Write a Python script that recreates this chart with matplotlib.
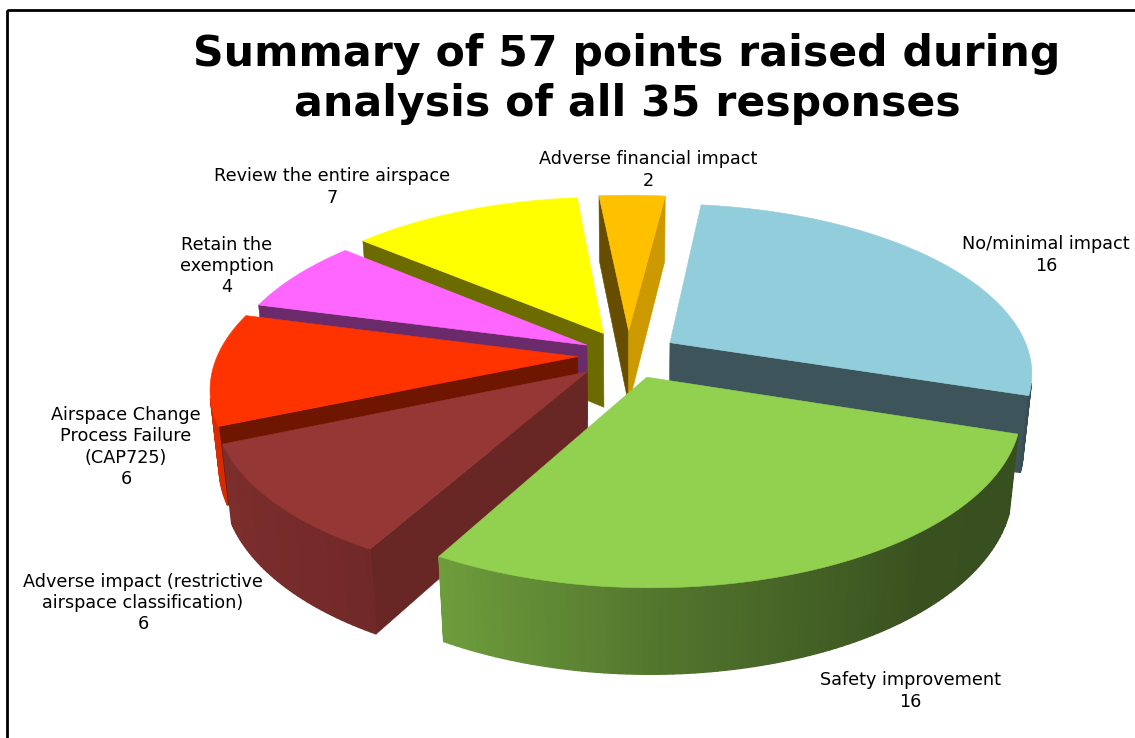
import numpy as np
import matplotlib
matplotlib.use('Agg')
import matplotlib.pyplot as plt
from matplotlib.patches import Polygon, Rectangle

# Data
categories = ['No/minimal impact', 'Safety improvement',
              'Adverse impact (restrictive\nairspace classification)',
              'Airspace Change\nProcess Failure\n(CAP725)',
              'Retain the\nexemption', 'Review the entire airspace',
              'Adverse financial impact']
values = [16, 16, 6, 6, 4, 7, 2]
title = 'Summary of 57 points raised during\nanalysis of all 35 responses'

# Styles, same order as the values
colors = ['#92CDDC', '#92D050', '#953735', '#FF3300', '#FF66FF', '#FFFF00', '#FFC000']
wall_shade = [(0.41, 0.41), (0.4, 0.4), (0.7, 0.7), (0.43, 0.43), (0.42, 0.42), (0.42, 0.42), (0.4, 0.8)]
explode = [0.14, 0.14, 0.15, 0.14, 0.13, 0.15, 0.15]
draw_order = [5, 6, 0, 4, 3, 2, 1]
label_pos = [(1046, 255), (910, 691), (143, 603), (126, 447), (227, 266), (332, 187), (648, 170)]

# Camera and pie geometry, all in figure pixels
start_angle = 7
depth = 0.24
elev = np.radians(27.5)
cam_dist = 5.2
focal = 1872
cx, cy = 628, 355


def project(x, y, z):
    w = cam_dist + y * np.cos(elev) - z * np.sin(elev)
    return cx + focal * x / w, cy - focal * (y * np.sin(elev) + z * np.cos(elev)) / w


def shade(color, f):
    rgb = np.array(matplotlib.colors.to_rgb(color))
    return tuple(rgb * f)


def rim_shade(deg):
    nx = np.sin(np.radians(deg))
    return np.interp(nx, [-1, -0.47, 0, 0.64, 1], [0.85, 0.75, 0.57, 0.39, 0.38])


def visible(pts):
    xs = np.array([p[0] for p in pts])
    ys = np.array([p[1] for p in pts])
    return np.sum(xs * np.roll(ys, -1) - np.roll(xs, -1) * ys) < 0


def draw_face(ax, pts, color, lw=0.4):
    ax.add_patch(Polygon(pts, closed=True, facecolor=color, edgecolor=color, linewidth=lw))


fig = plt.figure(figsize=(11.35, 7.38), dpi=100)
ax = fig.add_axes([0, 0, 1, 1])
ax.set_xlim(0, 1135)
ax.set_ylim(738, 0)
ax.axis('off')

ax.add_patch(Rectangle((7, 10), 1300, 900, fill=False, edgecolor='black', linewidth=2))

# Slice angles come from the values, clockwise from the top
edges = start_angle + np.cumsum([0] + values) / sum(values) * 360

for i in draw_order:
    a0, a1 = edges[i], edges[i + 1]
    mid = np.radians((a0 + a1) / 2)
    ox, oy = explode[i] * np.sin(mid), explode[i] * np.cos(mid)
    degs = np.arange(a0, a1, 1.0)
    degs = np.append(degs, a1)
    rx = ox + np.sin(np.radians(degs))
    ry = oy + np.cos(np.radians(degs))

    apex_top = project(ox, oy, 0)
    apex_bot = project(ox, oy, -depth)

    # start and end walls
    p_top = project(rx[0], ry[0], 0)
    p_bot = project(rx[0], ry[0], -depth)
    wall = [apex_top, p_top, p_bot, apex_bot]
    if visible(wall):
        draw_face(ax, wall, shade(colors[i], wall_shade[i][0]))
    p_top = project(rx[-1], ry[-1], 0)
    p_bot = project(rx[-1], ry[-1], -depth)
    wall = [p_top, apex_top, apex_bot, p_bot]
    if visible(wall):
        draw_face(ax, wall, shade(colors[i], wall_shade[i][1]))

    # outer rim, small quads so the shading can change along it
    for k in range(len(degs) - 1):
        quad = [project(rx[k], ry[k], 0), project(rx[k + 1], ry[k + 1], 0),
                project(rx[k + 1], ry[k + 1], -depth), project(rx[k], ry[k], -depth)]
        if visible(quad):
            draw_face(ax, quad, shade(colors[i], rim_shade((degs[k] + degs[k + 1]) / 2)), lw=1.0)

    # top
    top = [apex_top] + [project(x, y, 0) for x, y in zip(rx, ry)]
    draw_face(ax, top, colors[i])

# Labels
for name, val, (lx, ly) in zip(categories, values, label_pos):
    ax.text(lx, ly, f'{name}\n{val}', ha='center', va='center', fontsize=12.7,
            color='black', linespacing=1.23)

ax.text(627, 79, title, ha='center', va='center', fontsize=30.7, fontweight='bold',
        color='black', linespacing=1.25)

plt.savefig('out.png', dpi=100)
